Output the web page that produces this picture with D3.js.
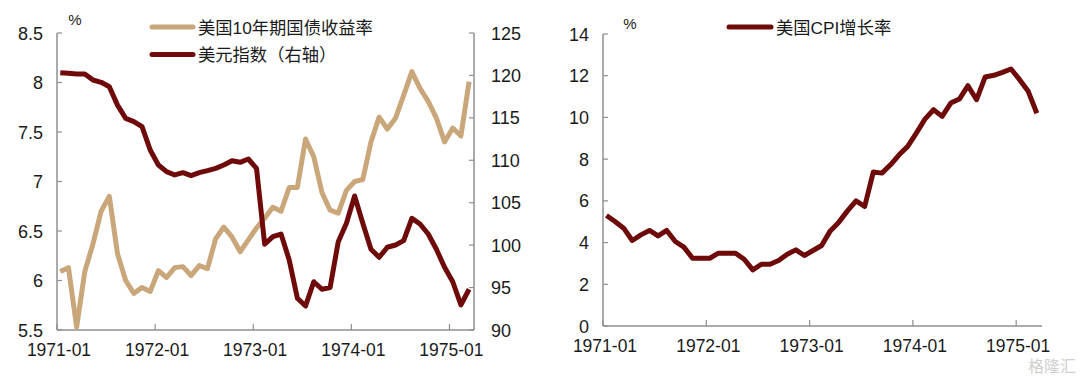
<!DOCTYPE html>
<html><head><meta charset="utf-8">
<script src="https://cdn.jsdelivr.net/npm/d3@7"></script>
<style>
html,body{margin:0;padding:0;background:#fff;}
svg{display:block;}
text{font-family:"Liberation Sans",Arial,"Noto Sans CJK SC",sans-serif;fill:#1a1a1a;}
</style></head>
<body>
<svg id="c" width="1080" height="379"></svg>
<script>
const months = ["1971-01","1971-02","1971-03","1971-04","1971-05","1971-06","1971-07","1971-08","1971-09","1971-10","1971-11","1971-12",
"1972-01","1972-02","1972-03","1972-04","1972-05","1972-06","1972-07","1972-08","1972-09","1972-10","1972-11","1972-12",
"1973-01","1973-02","1973-03","1973-04","1973-05","1973-06","1973-07","1973-08","1973-09","1973-10","1973-11","1973-12",
"1974-01","1974-02","1974-03","1974-04","1974-05","1974-06","1974-07","1974-08","1974-09","1974-10","1974-11","1974-12",
"1975-01","1975-02","1975-03"];
const xTickLabels = ["1971-01","1972-01","1973-01","1974-01","1975-01"];
const treasury10y = [6.09,6.13,5.53,6.09,6.37,6.70,6.85,6.27,6.00,5.87,5.93,5.89,
6.10,6.03,6.13,6.14,6.05,6.15,6.12,6.42,6.54,6.44,6.29,6.41,
6.53,6.63,6.74,6.70,6.94,6.94,7.43,7.25,6.89,6.71,6.68,6.91,
7.00,7.02,7.40,7.65,7.53,7.64,7.87,8.11,7.94,7.81,7.64,7.40,
7.54,7.46,8.01];
const dollarIndex = [120.32,120.25,120.17,120.17,119.46,119.19,118.67,116.5,114.94,114.55,113.96,111.21,
109.44,108.66,108.27,108.54,108.19,108.54,108.78,109.05,109.44,109.95,109.76,110.15,
109.05,100.1,101.0,101.31,98.25,93.74,92.83,95.69,94.8,94.99,100.41,102.57,
105.79,102.57,99.51,98.57,99.75,100.02,100.53,103.16,102.49,101.31,99.51,97.39,
95.69,92.95,94.8];
const cpiGrowth = [5.30,5.01,4.69,4.10,4.37,4.58,4.32,4.58,4.05,3.78,3.25,3.25,
3.25,3.49,3.49,3.49,3.20,2.69,2.96,2.96,3.14,3.44,3.65,3.38,
3.62,3.86,4.56,4.98,5.52,6.00,5.73,7.38,7.33,7.73,8.21,8.61,
9.25,9.92,10.37,10.05,10.69,10.88,11.52,10.85,11.94,12.02,12.16,12.32,
11.81,11.25,10.20];
const leftTicks = [5.5,6,6.5,7,7.5,8,8.5];
const rightTicks = [90,95,100,105,110,115,120,125];
const cpiTicks = [0,2,4,6,8,10,12,14];
const legendNames = ["美国10年期国债收益率","美元指数（右轴）","美国CPI增长率"];

const TAN = "#C9A77B", DARK = "#6F0A0A", AXIS = "#8f8f8f";
const svg = d3.select("#c");
const FSX = 17.5, FSY = 18;
const monthIdx = d => months.indexOf(d);
const tickIdx = xTickLabels.map(monthIdx);
const OFF = 0.4;
const CJK = "'Noto Sans CJK SC','Liberation Sans',sans-serif";

function xAxis(g, x, y0, len) {
  g.append("line").attr("x1", x.range()[0]).attr("x2", x.range()[1]).attr("y1", y0).attr("y2", y0)
    .attr("stroke", AXIS).attr("stroke-width", 1.5);
  tickIdx.forEach((m, k) => {
    const px = x(m);
    g.append("line").attr("x1", px).attr("x2", px).attr("y1", y0).attr("y2", y0 - len)
      .attr("stroke", AXIS).attr("stroke-width", 1.2);
    g.append("text").attr("x", px + 2).attr("y", y0 + 26).attr("text-anchor", "middle")
      .attr("font-size", FSX).text(xTickLabels[k]);
  });
}
function yAxis(g, y, x0, ticks, side, fmt) {
  g.append("line").attr("x1", x0).attr("x2", x0).attr("y1", y.range()[0]).attr("y2", y.range()[1])
    .attr("stroke", AXIS).attr("stroke-width", 1.5);
  ticks.forEach(t => {
    const py = y(t);
    const dir = side === "left" ? 1 : -1;
    g.append("line").attr("x1", x0).attr("x2", x0 + dir * 5).attr("y1", py).attr("y2", py)
      .attr("stroke", AXIS).attr("stroke-width", 1.2);
    g.append("text").attr("x", side === "left" ? x0 - 14 : x0 + 17).attr("y", py + 6.5)
      .attr("text-anchor", side === "left" ? "end" : "start")
      .attr("font-size", FSY).text(fmt(t));
  });
}
const fmtNum = t => String(t);

// ---------- Left chart ----------
const xL = d3.scaleLinear().domain([0, 51]).range([57, 474]);
const yL = d3.scaleLinear().domain([5.5, 8.5]).range([330, 33]);
const yR = d3.scaleLinear().domain([90, 125]).range([330, 33]);
const gL = svg.append("g");
yAxis(gL, yL, 57, leftTicks, "left", fmtNum);
yAxis(gL, yR, 474, rightTicks, "right", fmtNum);
xAxis(gL, xL, 330, 6);

const lineTre = d3.line().x((d, i) => xL(i + OFF)).y(d => yL(d));
const lineDol = d3.line().x((d, i) => xL(i + OFF)).y(d => yR(d));
gL.append("path").datum(treasury10y).attr("d", lineTre).attr("fill", "none")
  .attr("stroke", TAN).attr("stroke-width", 5).attr("stroke-linejoin", "round");
gL.append("path").datum(dollarIndex).attr("d", lineDol).attr("fill", "none")
  .attr("stroke", DARK).attr("stroke-width", 5).attr("stroke-linejoin", "round");

gL.append("text").attr("x", 75).attr("y", 25).attr("text-anchor", "middle").attr("font-size", 15).text("%");
// legend
[[TAN, legendNames[0], 27], [DARK, legendNames[1], 54.5]].forEach(([c, t, yy]) => {
  gL.append("line").attr("x1", 152).attr("x2", 193).attr("y1", yy).attr("y2", yy)
    .attr("stroke", c).attr("stroke-width", 5).attr("stroke-linecap", "round");
  gL.append("text").attr("x", 198).attr("y", yy + 6.5).attr("font-size", 17.3)
    .attr("font-family", CJK).text(t);
});

// ---------- Right chart ----------
const xC = d3.scaleLinear().domain([0, 51]).range([603, 1042]);
const yC = d3.scaleLinear().domain([0, 14]).range([326, 34]);
const gR = svg.append("g");
yAxis(gR, yC, 603, cpiTicks, "left", fmtNum);
xAxis(gR, xC, 326, 6);
const lineCpi = d3.line().x((d, i) => xC(i + OFF)).y(d => yC(d));
gR.append("path").datum(cpiGrowth).attr("d", lineCpi).attr("fill", "none")
  .attr("stroke", DARK).attr("stroke-width", 5).attr("stroke-linejoin", "round");
gR.append("text").attr("x", 630).attr("y", 29).attr("text-anchor", "middle").attr("font-size", 15).text("%");
gR.append("line").attr("x1", 729).attr("x2", 771).attr("y1", 27).attr("y2", 27)
  .attr("stroke", DARK).attr("stroke-width", 5).attr("stroke-linecap", "round");
gR.append("text").attr("x", 776).attr("y", 33.5).attr("font-size", 17.3)
  .attr("font-family", CJK).text(legendNames[2]);

// watermark
svg.append("text").attr("x", 1076).attr("y", 372).attr("text-anchor", "end").attr("font-size", 16)
  .attr("font-family", CJK).style("fill", "#d0d0d0").text("格隆汇");
</script>
</body></html>
